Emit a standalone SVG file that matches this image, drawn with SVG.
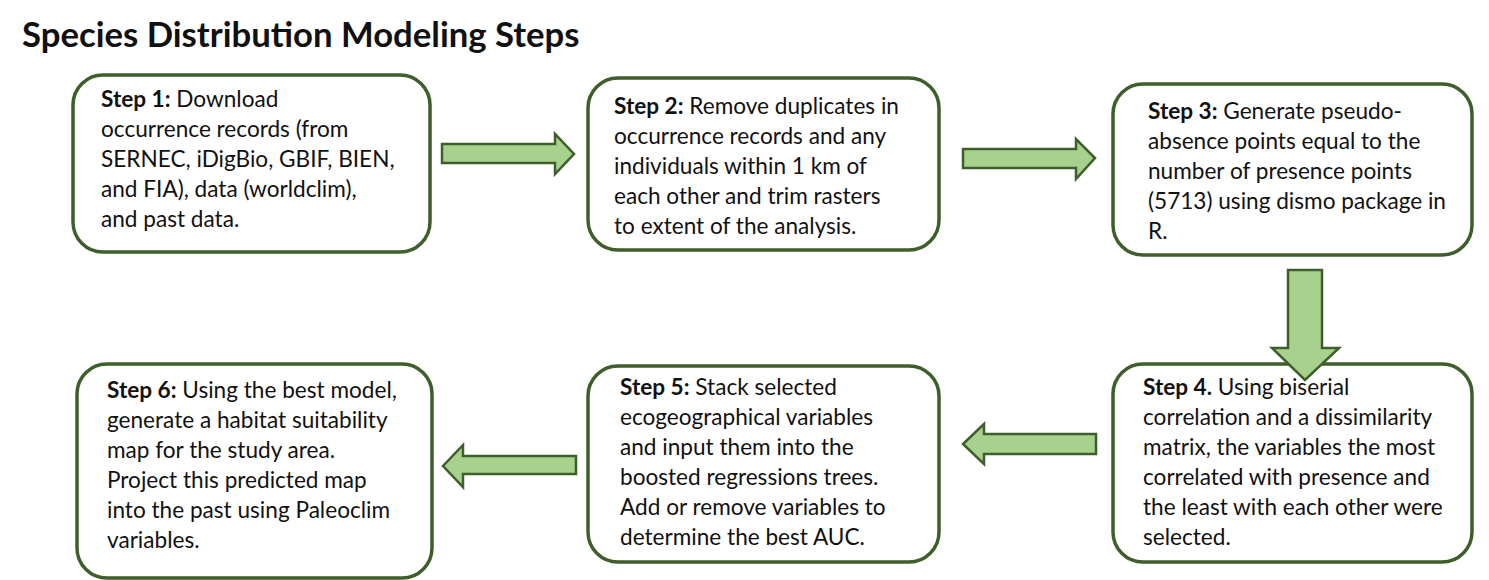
<svg xmlns="http://www.w3.org/2000/svg" width="1489" height="580" viewBox="0 0 1489 580">
<style>
.box{fill:#fff;stroke:#3e5f2b;stroke-width:3.5}
.arr{fill:#a9d18e;stroke:#3e5f2b;stroke-width:2.5;stroke-linejoin:miter}
text{font-family:Lato,"Open Sans","Liberation Sans",sans-serif;font-size:22.6px;fill:#111}
.b{font-weight:bold}
.title{font-size:34.7px;font-weight:bold}
</style>
<rect width="1489" height="580" fill="#fff"/>
<text class="title" x="22" y="47">Species Distribution Modeling Steps</text>
<g id="step1">
<rect class="box" x="73" y="75" width="357" height="177" rx="30"/>
<text x="101" y="107"><tspan class="b">Step 1:</tspan> Download</text>
<text x="101" y="137">occurrence records (from</text>
<text x="101" y="167">SERNEC, iDigBio, GBIF, BIEN,</text>
<text x="101" y="197">and FIA), data (worldclim),</text>
<text x="101" y="227">and past data.</text>
</g>
<g id="step2">
<rect class="box" x="588" y="78" width="351" height="172" rx="30"/>
<text x="614" y="114"><tspan class="b">Step 2:</tspan> Remove duplicates in</text>
<text x="614" y="144">occurrence records and any</text>
<text x="614" y="174">individuals within 1 km of</text>
<text x="614" y="204">each other and trim rasters</text>
<text x="614" y="234">to extent of the analysis.</text>
</g>
<g id="step3">
<rect class="box" x="1113" y="84" width="359" height="171" rx="30"/>
<text x="1148" y="119"><tspan class="b">Step 3:</tspan> Generate pseudo-</text>
<text x="1148" y="149">absence points equal to the</text>
<text x="1148" y="179">number of presence points</text>
<text x="1148" y="209">(5713) using dismo package in</text>
<text x="1148" y="239">R.</text>
</g>
<g id="step4">
<rect class="box" x="1113" y="364" width="359" height="198" rx="30"/>
<text x="1143" y="395"><tspan class="b">Step 4.</tspan> Using biserial</text>
<text x="1143" y="425">correlation and a dissimilarity</text>
<text x="1143" y="455">matrix, the variables the most</text>
<text x="1143" y="485">correlated with presence and</text>
<text x="1143" y="515">the least with each other were</text>
<text x="1143" y="545">selected.</text>
</g>
<g id="step5">
<rect class="box" x="588" y="366" width="351" height="196" rx="30"/>
<text x="620" y="395"><tspan class="b">Step 5:</tspan> Stack selected</text>
<text x="620" y="425">ecogeographical variables</text>
<text x="620" y="455">and input them into the</text>
<text x="620" y="485">boosted regressions trees.</text>
<text x="620" y="515">Add or remove variables to</text>
<text x="620" y="545">determine the best AUC.</text>
</g>
<g id="step6">
<rect class="box" x="77" y="364" width="355" height="214" rx="30"/>
<text x="107" y="398"><tspan class="b">Step 6:</tspan> Using the best model,</text>
<text x="107" y="428">generate a habitat suitability</text>
<text x="107" y="458">map for the study area.</text>
<text x="107" y="488">Project this predicted map</text>
<text x="107" y="518">into the past using Paleoclim</text>
<text x="107" y="548">variables.</text>
</g>
<g id="connectors">
<polygon class="arr" points="442,144 555,144 555,134 574,154 555,174 555,163 442,163"/>
<polygon class="arr" points="963,149 1076,149 1076,139 1095,158 1076,179 1076,168 963,168"/>
<polygon class="arr" points="1288,270 1322,270 1322,348 1339,348 1305,380 1272,348 1288,348"/>
<polygon class="arr" points="1096,434 984,434 984,424 963,444 984,464 984,454 1096,454"/>
<polygon class="arr" points="576,456 463,456 463,445 443,466 463,487 463,474 576,474"/>
</g>
</svg>
